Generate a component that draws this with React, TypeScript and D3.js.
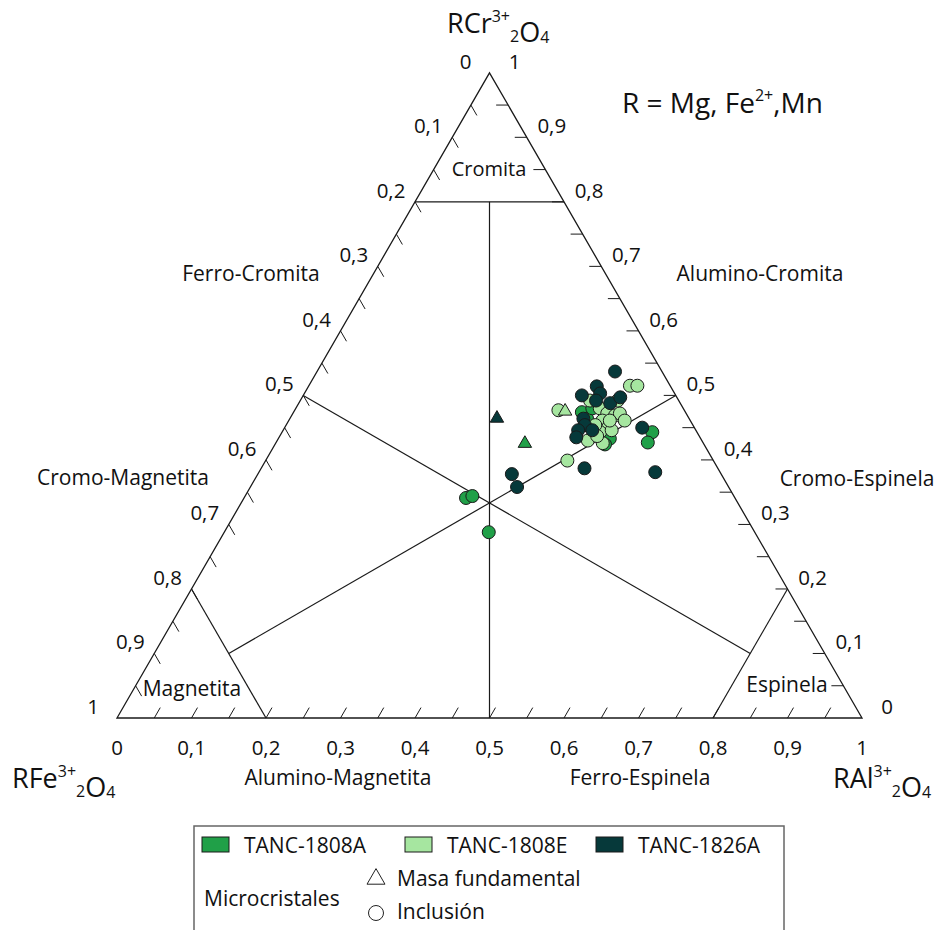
import React, { useEffect, useRef } from 'react';
import * as d3 from 'd3';

type Comp = [number, number, number]; // [Cr, Al, Fe]

// TANC-1808A
const tanc1808A_inclusion: Comp[] = [
  [0.341, 0.298, 0.361], [0.344, 0.305, 0.351], [0.288, 0.355, 0.357],
  [0.443, 0.497, 0.060], [0.427, 0.499, 0.074], [0.474, 0.387, 0.139],
  [0.464, 0.399, 0.137], [0.480, 0.398, 0.122], [0.433, 0.445, 0.122],
  [0.424, 0.443, 0.133],
];
const tanc1808A_masa: Comp[] = [[0.427, 0.334, 0.239]];

// TANC-1808E
const tanc1808E_inclusion: Comp[] = [
  [0.515, 0.431, 0.054], [0.515, 0.441, 0.044], [0.477, 0.354, 0.169],
  [0.399, 0.405, 0.196], [0.480, 0.408, 0.112], [0.472, 0.422, 0.106],
  [0.469, 0.434, 0.097], [0.472, 0.439, 0.089], [0.461, 0.421, 0.118],
  [0.450, 0.434, 0.116], [0.443, 0.427, 0.130], [0.426, 0.439, 0.135],
  [0.446, 0.441, 0.113], [0.454, 0.415, 0.131], [0.430, 0.417, 0.153],
  [0.492, 0.426, 0.082], [0.461, 0.451, 0.088], [0.492, 0.389, 0.119],
  [0.437, 0.426, 0.137], [0.461, 0.431, 0.108],
];
const tanc1808E_masa: Comp[] = [[0.477, 0.363, 0.160]];

// TANC-1826A
const tanc1826A_inclusion: Comp[] = [
  [0.537, 0.400, 0.063], [0.514, 0.387, 0.099], [0.503, 0.397, 0.100],
  [0.500, 0.374, 0.126], [0.488, 0.418, 0.094], [0.497, 0.427, 0.076],
  [0.492, 0.397, 0.111], [0.464, 0.394, 0.142], [0.454, 0.401, 0.145],
  [0.446, 0.396, 0.158], [0.435, 0.399, 0.166], [0.446, 0.415, 0.139],
  [0.450, 0.480, 0.070], [0.387, 0.434, 0.179], [0.381, 0.532, 0.087],
  [0.378, 0.341, 0.281], [0.358, 0.358, 0.284],
];
const tanc1826A_masa: Comp[] = [[0.466, 0.277, 0.257]];

const tickLabels = ['0', '0,1', '0,2', '0,3', '0,4', '0,5', '0,6', '0,7', '0,8', '0,9', '1'];

// field boundaries, endpoints as [Cr, Al, Fe]
const fieldLines: [Comp, Comp][] = [
  [[0.8, 0, 0.2], [0.8, 0.2, 0]],
  [[0.8, 0.1, 0.1], [0, 0.5, 0.5]],
  [[0.5, 0, 0.5], [0.1, 0.8, 0.1]],
  [[0.5, 0.5, 0], [0.1, 0.1, 0.8]],
  [[0.2, 0, 0.8], [0, 0.2, 0.8]],
  [[0.2, 0.8, 0], [0, 0.8, 0.2]],
];

const samples = [
  { name: 'TANC-1808A', color: '#20a048', inclusion: tanc1808A_inclusion, masa: tanc1808A_masa },
  { name: 'TANC-1808E', color: '#a6e6a0', inclusion: tanc1808E_inclusion, masa: tanc1808E_masa },
  { name: 'TANC-1826A', color: '#06393a', inclusion: tanc1826A_inclusion, masa: tanc1826A_masa },
];

const FONT = "'Open Sans', sans-serif";

const App: React.FC = () => {
  const ref = useRef<SVGSVGElement | null>(null);

  useEffect(() => {
    const svg = d3.select(ref.current);
    svg.selectAll('*').remove();

    const x = d3.scaleLinear().domain([0, 1]).range([117, 862]);
    const y = d3.scaleLinear().domain([0, 1]).range([718, 72.8]);
    const proj = (d: Comp): [number, number] => [x(d[1] + d[0] / 2), y(d[0])];
    const line = d3.line();
    const ink = '#1a1a1a';

    // triangle
    svg.append('path')
      .attr('d', line([proj([1, 0, 0]), proj([0, 1, 0]), proj([0, 0, 1])]) + 'Z')
      .attr('fill', 'none').attr('stroke', ink).attr('stroke-width', 1.3);

    // ticks every 0.05
    const L = 12;
    const tv = d3.range(1, 20).map(i => i / 20);
    const ticks: [number, number][][] = [];
    tv.forEach(v => {
      const pl = proj([1 - v, 0, v]);
      ticks.push([pl, [pl[0] + 0.5 * L, pl[1] + 0.866 * L]]);
      const pb = proj([0, v, 1 - v]);
      ticks.push([pb, [pb[0] + 0.5 * L, pb[1] - 0.866 * L]]);
      const pr = proj([v, 1 - v, 0]);
      ticks.push([pr, [pr[0] - L, pr[1]]]);
    });
    svg.append('g').selectAll('path').data(ticks).enter().append('path')
      .attr('d', d => line(d))
      .attr('stroke', ink).attr('stroke-width', 1);

    // field lines
    svg.append('g').selectAll('path').data(fieldLines).enter().append('path')
      .attr('d', d => line([proj(d[0]), proj(d[1])]))
      .attr('stroke', ink).attr('stroke-width', 1.2);

    // tick labels
    const lab = svg.append('g').attr('font-family', FONT).attr('font-size', 20.5)
      .attr('fill', '#111').attr('text-anchor', 'middle').attr('dominant-baseline', 'central');
    tickLabels.forEach((t, i) => {
      const v = i / 10;
      const pl = proj([1 - v, 0, v]);
      lab.append('text').attr('x', pl[0] - 24).attr('y', pl[1] - 12).text(t);
      const pb = proj([0, v, 1 - v]);
      lab.append('text').attr('x', pb[0]).attr('y', pb[1] + 29).text(t);
      const pr = proj([v, 1 - v, 0]);
      lab.append('text').attr('x', pr[0] + 25).attr('y', pr[1] - 12).text(t);
    });

    // field names
    const fields: [string, number, number][] = [
      ['Cromita', 489, 168], ['Ferro-Cromita', 251, 273], ['Alumino-Cromita', 760, 273],
      ['Cromo-Magnetita', 123, 477], ['Cromo-Espinela', 857, 478],
      ['Magnetita', 192, 688], ['Espinela', 787, 684],
      ['Alumino-Magnetita', 338, 777], ['Ferro-Espinela', 640, 777],
    ];
    svg.append('g').attr('font-family', FONT).attr('font-size', 21).attr('fill', '#111')
      .attr('text-anchor', 'middle').attr('dominant-baseline', 'central')
      .selectAll('text').data(fields).enter().append('text')
      .attr('x', d => d[1]).attr('y', d => d[2])
      .attr('font-size', d => (d[0] === 'Cromita' ? 20 : 21))
      .text(d => d[0]);

    // vertex titles: R<el>3+ then 2 O 4 dropped onto a lower baseline
    const title = (el: string, xx: number, yy: number) => {
      const t = svg.append('text').attr('x', xx).attr('y', yy).attr('font-family', FONT)
        .attr('font-size', 27).attr('fill', '#111');
      t.append('tspan').text('R' + el);
      t.append('tspan').attr('font-size', 16).attr('dy', -11).text('3+');
      t.append('tspan').attr('font-size', 16).attr('dy', 20).text('2');
      t.append('tspan').text('O');
      t.append('tspan').attr('font-size', 16).attr('dy', 1).text('4');
    };
    title('Cr', 447, 33);
    title('Fe', 12, 788);
    title('Al', 833, 788);

    const r = svg.append('text').attr('x', 622).attr('y', 113).attr('font-family', FONT)
      .attr('font-size', 28).attr('fill', '#111');
    r.append('tspan').text('R = Mg, Fe');
    r.append('tspan').attr('font-size', 16).attr('dy', -12).text('2+');
    r.append('tspan').attr('dy', 12).text(',Mn');

    // points
    const sym = d3.symbol().type(d3.symbolTriangle).size(78);
    samples.forEach(s => {
      svg.append('g').selectAll('circle').data(s.inclusion).enter().append('circle')
        .attr('cx', d => proj(d)[0]).attr('cy', d => proj(d)[1]).attr('r', 6.5)
        .attr('fill', s.color).attr('stroke', '#1a1a1a').attr('stroke-width', 1);
      svg.append('g').selectAll('path').data(s.masa).enter().append('path')
        .attr('d', sym)
        .attr('transform', d => `translate(${proj(d)[0]},${proj(d)[1] + 1})`)
        .attr('fill', s.color).attr('stroke', '#1a1a1a').attr('stroke-width', 1);
    });

    // legend
    const lg = svg.append('g').attr('font-family', FONT).attr('fill', '#111');
    lg.append('rect').attr('x', 194).attr('y', 826).attr('width', 590).attr('height', 120)
      .attr('fill', 'none').attr('stroke', '#666').attr('stroke-width', 1.5);
    const lx = [202, 405, 596];
    samples.forEach((s, i) => {
      lg.append('rect').attr('x', lx[i]).attr('y', 837).attr('width', 27).attr('height', 15)
        .attr('fill', s.color).attr('stroke', '#1a1a1a').attr('stroke-width', 1);
      lg.append('text').attr('x', lx[i] + 42).attr('y', 845).attr('font-size', 21)
        .attr('dominant-baseline', 'central').text(s.name);
    });
    lg.append('text').attr('x', 204).attr('y', 898).attr('font-size', 21)
      .attr('dominant-baseline', 'central').text('Microcristales');
    lg.append('path').attr('d', d3.symbol().type(d3.symbolTriangle).size(140)())
      .attr('transform', 'translate(376,879)').attr('fill', 'none').attr('stroke', '#222').attr('stroke-width', 1);
    lg.append('text').attr('x', 397).attr('y', 878).attr('font-size', 21)
      .attr('dominant-baseline', 'central').text('Masa fundamental');
    lg.append('circle').attr('cx', 376).attr('cy', 913).attr('r', 7.5)
      .attr('fill', 'none').attr('stroke', '#222').attr('stroke-width', 1);
    lg.append('text').attr('x', 397).attr('y', 911).attr('font-size', 21)
      .attr('dominant-baseline', 'central').text('Inclusión');
  }, []);

  return (
    <svg ref={ref} width={938} height={930}
      style={{ position: 'absolute', left: 0, top: 0, background: '#fff', display: 'block' }} />
  );
};

export default App;
